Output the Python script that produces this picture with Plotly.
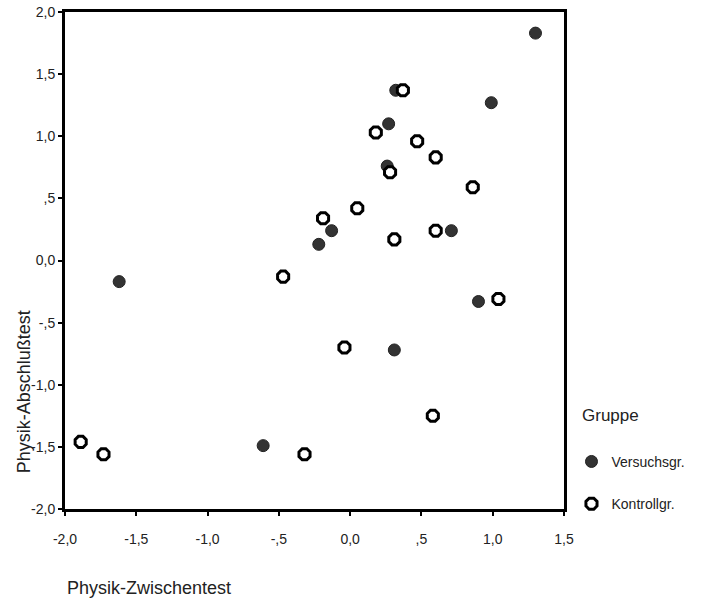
import plotly.graph_objects as go

# Data
versuch_x = [1.30, 0.32, 0.99, 0.27, 0.26, -0.13, -0.22, 0.71, 0.90, -1.62, 0.31, -0.61]
versuch_y = [1.83, 1.37, 1.27, 1.10, 0.76, 0.24, 0.13, 0.24, -0.33, -0.17, -0.72, -1.49]

kontroll_x = [0.37, 0.18, 0.47, 0.60, 0.28, 0.86, 0.05, -0.19, 0.31, 0.60, -0.47, 1.04, -0.04, 0.58, -1.89, -1.73, -0.32]
kontroll_y = [1.37, 1.03, 0.96, 0.83, 0.71, 0.59, 0.42, 0.34, 0.17, 0.24, -0.13, -0.31, -0.70, -1.25, -1.46, -1.56, -1.56]

x_tickvals = [-2.0, -1.5, -1.0, -0.5, 0.0, 0.5, 1.0, 1.5]
x_ticktext = ["-2,0", "-1,5", "-1,0", "-,5", "0,0", ",5", "1,0", "1,5"]
y_tickvals = [-2.0, -1.5, -1.0, -0.5, 0.0, 0.5, 1.0, 1.5, 2.0]
y_ticktext = ["-2,0", "-1,5", "-1,0", "-,5", "0,0", ",5", "1,0", "1,5", "2,0"]

FONT = "Liberation Sans, Arial, sans-serif"

fig = go.Figure()
fig.add_trace(go.Scatter(
    x=versuch_x, y=versuch_y, mode="markers", name="Versuchsgr.",
    legendgroup="v",
    marker=dict(symbol="circle", size=12, color="#333333",
                line=dict(color="#222222", width=1)),
))
fig.add_trace(go.Scatter(
    x=kontroll_x, y=kontroll_y, mode="markers", name="Kontrollgr.",
    legendgroup="k",
    marker=dict(symbol="octagon", size=12, color="white",
                line=dict(color="black", width=3)),
))

axis_common = dict(
    showline=True, linecolor="black", linewidth=3, mirror=True,
    showgrid=False, zeroline=False, automargin=False,
    ticks="outside", ticklen=4, tickwidth=2, tickcolor="black",
    tickfont=dict(family=FONT, size=14, color="#222222"),
)

fig.update_xaxes(range=[-2.0, 1.5], tickvals=x_tickvals, ticktext=x_ticktext,
                 ticklabelstandoff=11, **axis_common)
fig.update_yaxes(range=[-2.0, 2.0], tickvals=y_tickvals, ticktext=y_ticktext,
                 **axis_common)

fig.update_layout(
    width=707, height=601,
    margin=dict(l=65, r=143, t=12, b=92, autoexpand=False),
    paper_bgcolor="white", plot_bgcolor="white",
    font=dict(family=FONT, color="#222222"),
    showlegend=True,
    legend=dict(
        x=1.015, xanchor="left", y=0.127, yanchor="top",
        font=dict(family=FONT, size=14, color="#222222"),
        tracegroupgap=21,
        bgcolor="rgba(0,0,0,0)",
    ),
    annotations=[
        dict(text="Gruppe", xref="paper", yref="paper",
             x=1.033, y=0.189, xanchor="left", yanchor="middle",
             showarrow=False,
             font=dict(family=FONT, size=17, color="#222222")),
        dict(text="Physik-Abschlußtest", xref="paper", yref="paper",
             x=-0.082, y=0.235, xanchor="center", yanchor="middle",
             textangle=-90, showarrow=False,
             font=dict(family=FONT, size=18, color="#222222")),
        dict(text="Physik-Zwischentest", xref="paper", yref="paper",
             x=0.0, y=-0.158, xanchor="left", yanchor="middle",
             showarrow=False,
             font=dict(family=FONT, size=18, color="#222222")),
    ],
)

fig.write_html("out.html", config={"displayModeBar": False},
               post_script="document.body.style.margin='0';")
